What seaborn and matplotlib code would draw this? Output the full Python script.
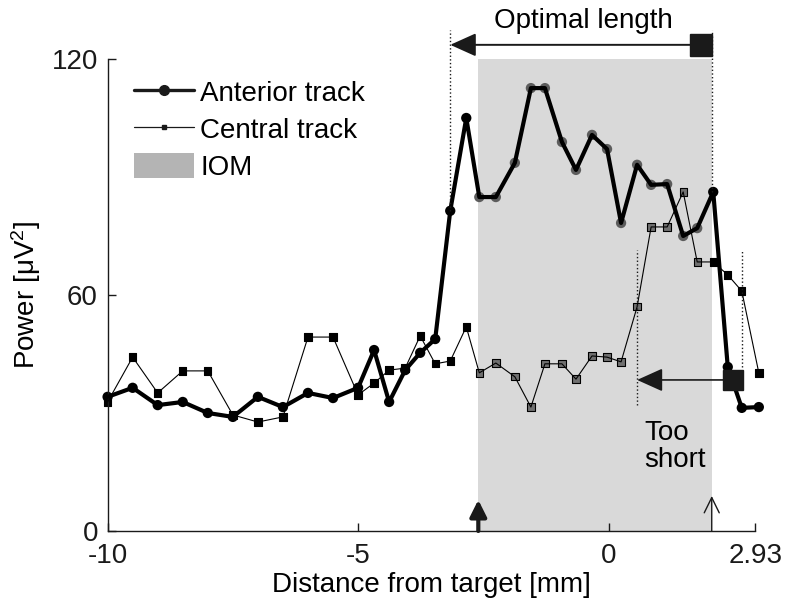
import matplotlib
matplotlib.use("Agg")
import numpy as np
import pandas as pd
import matplotlib.pyplot as plt
import seaborn as sns
from matplotlib.lines import Line2D
from matplotlib.patches import Patch

# ---------------- data ----------------
distance = [-10, -9.5, -9, -8.5, -8, -7.5, -7, -6.5, -6, -5.5, -5, -4.68, -4.38,
            -4.06, -3.76, -3.46, -3.16, -2.84, -2.58, -2.25, -1.87, -1.55, -1.27,
            -0.93, -0.65, -0.33, -0.03, 0.25, 0.57, 0.85, 1.17, 1.49, 1.77, 2.09,
            2.38, 2.66, 3.0]
anterior = [34.1, 36.4, 32.0, 32.8, 30.0, 29.0, 34.1, 31.5, 35.1, 33.8, 36.4, 46.0,
            32.8, 40.9, 45.3, 48.8, 81.4, 105.0, 84.9, 84.9, 93.6, 112.6, 112.6,
            98.9, 91.8, 100.7, 97.1, 78.3, 93.1, 88.0, 88.2, 75.0, 77.0, 86.2,
            41.7, 31.3, 31.5]
central = [32.8, 44.2, 35.1, 40.7, 40.7, 29.5, 27.7, 29.0, 49.3, 49.3, 34.6, 37.6,
           40.9, 41.4, 49.6, 42.5, 43.2, 51.9, 40.2, 42.7, 39.2, 31.5, 42.5, 42.5,
           38.6, 44.5, 44.2, 43.0, 57.0, 77.3, 77.3, 86.2, 68.4, 68.4, 65.1, 61.0,
           40.2]
iom_range = [-2.6, 2.06]
series_labels = ["Anterior track", "Central track", "IOM"]
x_ticks = [-10, -5, 0, 2.93]
x_ticklabels = ["-10", "-5", "0", "2.93"]
y_ticks = [0, 60, 120]
y_ticklabels = ["0", "60", "120"]

# annotation anchors
optimal_span = [-3.16, 2.06]      # dotted lines / arrow extent
optimal_square = 1.85
optimal_y = 123.6
short_span = [0.57, 2.66]
short_square = 2.48
short_y = 38.4

# ---------------- style ----------------
sns.set_theme(style="white")
plt.rcParams["font.family"] = ["Liberation Sans", "DejaVu Sans"]
plt.rcParams["font.size"] = 20
plt.rcParams["text.color"] = "black"
plt.rcParams["axes.labelcolor"] = "black"
plt.rcParams["xtick.color"] = "black"
plt.rcParams["ytick.color"] = "black"
plt.rcParams["mathtext.fontset"] = "custom"
plt.rcParams["mathtext.rm"] = "Liberation Sans"
plt.rcParams["mathtext.it"] = "Liberation Sans"

fig = plt.figure(figsize=(7.9, 6.12), dpi=100)
ax = fig.add_axes([0.1362, 0.1324, 0.8199, 0.7712])

ax.axvspan(iom_range[0], iom_range[1], color="#d9d9d9", lw=0, zorder=0)

df = pd.DataFrame({"distance": distance, "anterior": anterior, "central": central})
df["in_iom"] = df["distance"].between(iom_range[0], iom_range[1])

# markers (below the lines)
sns.scatterplot(data=df, x="distance", y="anterior", hue="in_iom",
                palette={False: "black", True: "#5c5c5c"}, marker="o", s=55,
                linewidth=0, legend=False, ax=ax, zorder=2, clip_on=False)
sns.scatterplot(data=df, x="distance", y="central", hue="in_iom",
                palette={False: "black", True: "#707070"}, marker="s", s=28,
                edgecolor="black", linewidth=0.8, legend=False, ax=ax, zorder=2,
                clip_on=False)
# lines
sns.lineplot(data=df, x="distance", y="central", sort=False, estimator=None,
             color="black", linewidth=0.8, ax=ax, zorder=3, clip_on=False)
sns.lineplot(data=df, x="distance", y="anterior", sort=False, estimator=None,
             color="black", linewidth=3.0, ax=ax, zorder=3, clip_on=False)

ax.set_xlim(-10, 2.93)
ax.set_ylim(0, 120)

# ---------------- annotations ----------------
ant_at = dict(zip(distance, anterior))
ax.plot([optimal_span[0]] * 2, [ant_at[-3.16], 127.4], ls=":", color="k", lw=1,
        clip_on=False, zorder=4)
ax.plot([optimal_span[1]] * 2, [86.2, 127.4], ls=":", color="k", lw=1,
        clip_on=False, zorder=4)
ax.annotate("", xy=(optimal_span[0], optimal_y), xytext=(optimal_span[1], optimal_y),
            arrowprops=dict(arrowstyle="-|>,head_length=0.8,head_width=0.36",
                            lw=1.4, color="k", shrinkA=0, shrinkB=0,
                            mutation_scale=20),
            annotation_clip=False)
ax.plot([optimal_square], [optimal_y], "s", ms=15.5, color="k", clip_on=False)
ax.text(-0.51, 129.6, "Optimal length", ha="center", va="center", fontsize=20,
        clip_on=False)

ax.plot([short_span[0]] * 2, [32.0, 71.4], ls=":", color="k", lw=1, zorder=4)
ax.plot([short_span[1]] * 2, [41.7, 71.4], ls=":", color="k", lw=1, zorder=4)
ax.annotate("", xy=(short_span[0], short_y), xytext=(short_square, short_y),
            arrowprops=dict(arrowstyle="-|>,head_length=0.8,head_width=0.36",
                            lw=1.2, color="k", shrinkA=0, shrinkB=0,
                            mutation_scale=20),
            annotation_clip=False, zorder=5)
ax.plot([short_square], [short_y], "s", ms=14.5, color="k", zorder=5)
ax.text(0.71, 21.4, "Too\nshort", ha="left", va="center", fontsize=20,
        linespacing=1.05)

# arrows at the IOM bounds on the x axis
ax.annotate("", xy=(iom_range[0], 7.9), xytext=(iom_range[0], 0),
            arrowprops=dict(arrowstyle="-|>,head_length=0.5,head_width=0.25",
                            lw=3, color="k", shrinkA=0, shrinkB=0,
                            mutation_scale=20), annotation_clip=False)
ax.annotate("", xy=(iom_range[1], 8.9), xytext=(iom_range[1], 0),
            arrowprops=dict(arrowstyle="->,head_length=0.55,head_width=0.27",
                            lw=1.0, color="k", shrinkA=0, shrinkB=0,
                            mutation_scale=20), annotation_clip=False)

# ---------------- axes ----------------
ax.set_xticks(x_ticks, x_ticklabels)
ax.set_yticks(y_ticks, y_ticklabels)
ax.tick_params(direction="in", length=6, width=1, colors="k",
               labelsize=20, bottom=True, left=True)
ax.tick_params(axis="x", pad=9)
ax.tick_params(axis="y", pad=7)
for side in ["top", "right"]:
    ax.spines[side].set_visible(False)
for side in ["left", "bottom"]:
    ax.spines[side].set_color("k")
    ax.spines[side].set_linewidth(1)
ax.set_xlabel("Distance from target [mm]", fontsize=20, labelpad=2)
ax.set_ylabel("Power [μV$^2$]", fontsize=20, labelpad=6)

handles = [Line2D([], [], color="k", lw=2.4, marker="o", ms=7),
           Line2D([], [], color="k", lw=0.9, marker="s", ms=3.5),
           Patch(facecolor="#b4b4b4", edgecolor="none")]
ax.legend(handles, series_labels, loc="upper left",
          bbox_to_anchor=(0.040, 0.958), frameon=False, handlelength=2.16,
          handletextpad=0.25, labelspacing=0.33, borderpad=0,
          borderaxespad=0, fontsize=20, handleheight=1.0)

fig.savefig("out.png", dpi=100)
